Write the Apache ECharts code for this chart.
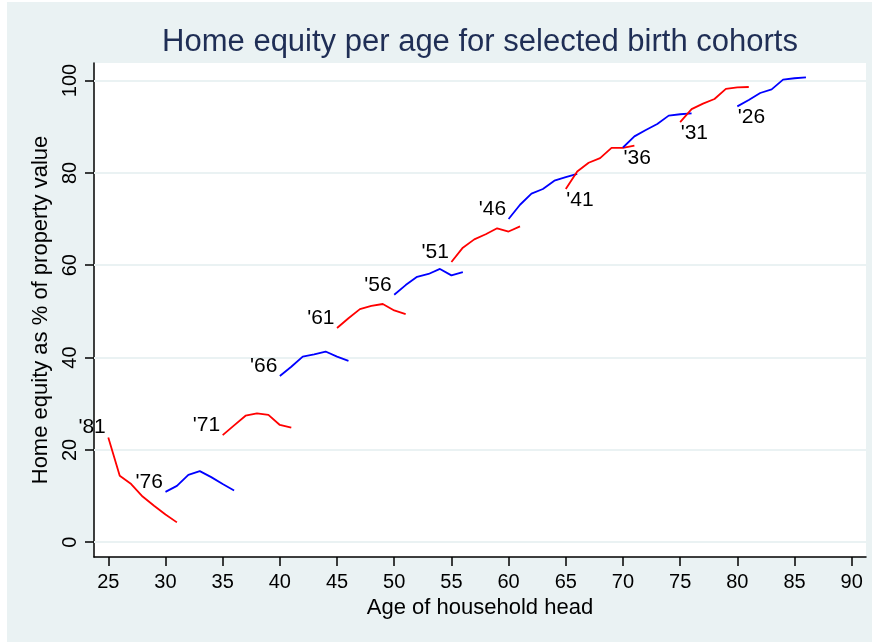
<!DOCTYPE html>
<html>
<head>
<meta charset="utf-8">
<script src="https://cdn.jsdelivr.net/npm/echarts@6/dist/echarts.min.js"></script>
<style>
  html, body { margin: 0; padding: 0; background: #ffffff; }
  #bg { position: absolute; left: 7px; top: 2px; width: 865px; height: 640px; background: #EAF2F3; }
  #chart { position: absolute; left: 0; top: 0; width: 877px; height: 643px; }
</style>
</head>
<body>
<div id="bg"></div>
<div id="chart"></div>
<script>
// ---- data ----
const titleText = 'Home equity per age for selected birth cohorts';
const xAxisName = 'Age of household head';
const yAxisName = 'Home equity as % of property value';
const xTicks = [25, 30, 35, 40, 45, 50, 55, 60, 65, 70, 75, 80, 85, 90];
const yTicks = [0, 20, 40, 60, 80, 100];

const cohortNames = ["'81", "'76", "'71", "'66", "'61", "'56", "'51", "'46", "'41", "'36", "'31", "'26"];
const cohortStartAge = [25, 30, 35, 40, 45, 50, 55, 60, 65, 70, 75, 80];

const c81 = [22.7, 14.4, 12.6, 9.9, 7.9, 6.0, 4.3];
const c76 = [10.9, 12.2, 14.6, 15.4, 14.1, 12.6, 11.2];
const c71 = [23.2, 25.3, 27.4, 27.9, 27.6, 25.4, 24.8];
const c66 = [36.0, 38.0, 40.2, 40.7, 41.3, 40.2, 39.3];
const c61 = [46.4, 48.5, 50.5, 51.2, 51.6, 50.2, 49.4];
const c56 = [53.6, 55.7, 57.5, 58.1, 59.2, 57.8, 58.5];
const c51 = [60.7, 63.8, 65.6, 66.7, 68.0, 67.3, 68.4];
const c46 = [70.0, 73.1, 75.5, 76.5, 78.3, 79.1, 79.8];
const c41 = [76.5, 80.3, 82.2, 83.2, 85.4, 85.4, 85.9];
const c36 = [85.5, 87.9, 89.3, 90.6, 92.4, 92.7, 92.9];
const c31 = [91.0, 93.8, 95.0, 96.0, 98.2, 98.5, 98.6];
const c26 = [94.4, 95.8, 97.3, 98.1, 100.2, 100.5, 100.7];

const cohortValues = [c81, c76, c71, c66, c61, c56, c51, c46, c41, c36, c31, c26];

// ---- styling ----
const FONT = '"Liberation Sans", Arial, Helvetica, sans-serif';
const RED = '#FF0000';
const BLUE = '#0000FF';
const GRID_COLOR = '#EAF2F3';

const lineSeries = cohortValues.map((vals, i) => ({
  type: 'line',
  name: cohortNames[i],
  data: vals.map((v, j) => [cohortStartAge[i] + j, v]),
  symbol: 'none',
  smooth: false,
  lineStyle: { color: i % 2 === 0 ? RED : BLUE, width: 1.8 },
  itemStyle: { color: i % 2 === 0 ? RED : BLUE },
  silent: true,
  z: 10
}));

const labelLeftData = [];
const labelBelowData = [];
cohortValues.forEach((vals, i) => {
  const item = { value: [cohortStartAge[i], vals[0]], name: cohortNames[i] };
  if (i < 8) labelLeftData.push(item); else labelBelowData.push(item);
});

const labelBase = {
  show: true,
  formatter: p => p.name,
  color: '#000',
  opacity: 1,
  fontFamily: FONT,
  fontSize: 21
};

const chart = echarts.init(document.getElementById('chart'), null, { renderer: 'canvas' });
chart.setOption({
  backgroundColor: 'transparent',
  animation: false,
  graphic: [{
    type: 'text',
    x: 480,
    y: 42,
    style: {
      text: titleText,
      fill: '#1F2E55',
      font: '31px ' + FONT,
      textAlign: 'center',
      textVerticalAlign: 'middle'
    }
  }],
  grid: {
    left: 94, top: 63, width: 772, height: 494,
    show: true, backgroundColor: '#ffffff', borderWidth: 0,
    containLabel: false
  },
  xAxis: {
    type: 'value',
    min: 23.75,
    max: 91.25,
    name: xAxisName,
    nameLocation: 'middle',
    nameGap: 36,
    nameTextStyle: { color: '#000', fontFamily: FONT, fontSize: 22 },
    axisLine: { show: true, onZero: false, lineStyle: { color: '#000', width: 1.5 } },
    axisTick: { show: true, length: 9, lineStyle: { color: '#000', width: 1.5 }, customValues: xTicks },
    axisLabel: { color: '#000', fontFamily: FONT, fontSize: 20, margin: 15, customValues: xTicks },
    splitLine: { show: false }
  },
  yAxis: {
    type: 'value',
    min: -3.2,
    max: 103.8,
    name: yAxisName,
    nameLocation: 'middle',
    nameGap: 38,
    nameRotate: 90,
    nameTextStyle: { color: '#000', fontFamily: FONT, fontSize: 22 },
    axisLine: { show: true, onZero: false, lineStyle: { color: '#000', width: 1.5 } },
    axisTick: { show: true, length: 9, lineStyle: { color: '#000', width: 1.5 }, customValues: yTicks },
    axisLabel: { color: '#000', fontFamily: FONT, fontSize: 20, margin: 14, rotate: 90, customValues: yTicks },
    splitLine: { show: false }
  },
  series: [
    {
      type: 'line',
      name: 'gridlines',
      data: [],
      silent: true,
      z: 1,
      markLine: {
        silent: true,
        z: 1,
        symbol: 'none',
        label: { show: false },
        lineStyle: { color: GRID_COLOR, width: 1.8, type: 'solid' },
        data: yTicks.map(v => ({ yAxis: v }))
      }
    },
    ...lineSeries,
    {
      type: 'scatter',
      name: 'labels-left',
      data: labelLeftData,
      symbolSize: 1,
      itemStyle: { color: 'rgba(0,0,0,0)', opacity: 1 },
      silent: true,
      z: 12,
      label: Object.assign({}, labelBase, { position: 'left', distance: 2, offset: [0, -10] })
    },
    {
      type: 'scatter',
      name: 'labels-below',
      data: labelBelowData,
      symbolSize: 1,
      itemStyle: { color: 'rgba(0,0,0,0)', opacity: 1 },
      silent: true,
      z: 12,
      label: Object.assign({}, labelBase, { position: 'right', distance: 0, offset: [0, 11] })
    }
  ]
});
</script>
</body>
</html>
